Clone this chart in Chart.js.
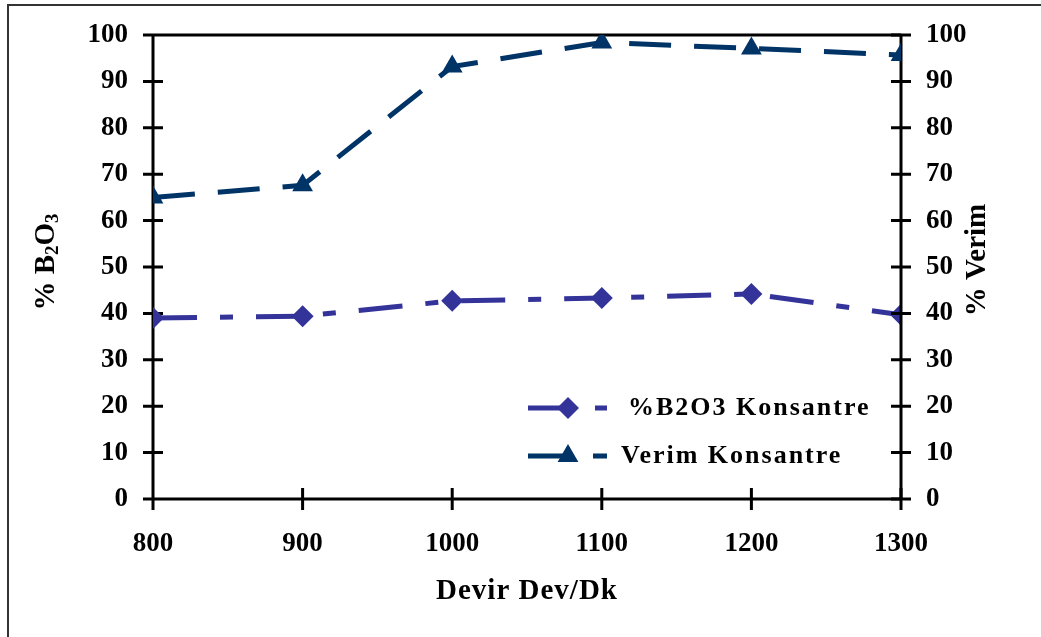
<!DOCTYPE html>
<html lang="tr">
<head>
<meta charset="UTF-8">
<title>Devir - %B2O3 / Verim</title>
<script src="https://cdn.jsdelivr.net/npm/chart.js@4"></script>
<style>
html,body{margin:0;padding:0;background:#fff;}
canvas{display:block;}
</style>
</head>
<body>
<canvas id="c" width="1041" height="637"></canvas>
<script>
// devir (dev/dk) and the two measured series
const devir=[800,900,1000,1100,1200,1300];
const b2o3=[39.0,39.4,42.7,43.3,44.2,39.7];
const verim=[65.0,67.6,93.2,98.4,97.1,95.7];
const yMin=0, yMax=100, yStep=10;
const xMin=800, xMax=1300, xStep=100;
const seriesNames=['%B2O3 Konsantre','Verim Konsantre'];

const SERIF='"Liberation Serif", "Times New Roman", serif';
const tickFont={family:SERIF,weight:'bold',size:27};

const pts=arr=>devir.map((d,i)=>({x:d,y:arr[i]}));

function crossTicks(ctx,scale,horiz,at,len){
  scale.ticks.forEach(t=>{
    const p=scale.getPixelForValue(t.value);
    if(horiz){ctx.moveTo(p,at-len);ctx.lineTo(p,at+len);}
    else{ctx.moveTo(at-len,p);ctx.lineTo(at+len,p);}
  });
}

const frame={
  id:'frame',
  beforeDatasetsDraw(chart){
    const {ctx,chartArea:a,scales}=chart;
    ctx.save();
    // outer border
    ctx.strokeStyle='#333';ctx.lineWidth=2;
    ctx.beginPath();ctx.moveTo(8,637);ctx.lineTo(8,5);ctx.lineTo(1041,5);ctx.stroke();
    // left + bottom axes, top edge
    ctx.strokeStyle='#000';ctx.lineWidth=3;ctx.lineCap='butt';
    ctx.beginPath();
    ctx.moveTo(a.left,a.top);ctx.lineTo(a.right,a.top);
    ctx.moveTo(a.left,a.top);ctx.lineTo(a.left,a.bottom);ctx.lineTo(a.right,a.bottom);
    crossTicks(ctx,scales.y,false,a.left,10);
    crossTicks(ctx,scales.x,true,a.bottom,11);
    ctx.stroke();
    ctx.restore();
  },
  afterDatasetDraw(chart,args){
    if(args.index!==0) return;
    // right axis sits above the diamonds
    const {ctx,chartArea:a,scales}=chart;
    ctx.save();
    ctx.strokeStyle='#000';ctx.lineWidth=3;
    ctx.beginPath();
    ctx.moveTo(a.right,a.top);ctx.lineTo(a.right,a.bottom);
    crossTicks(ctx,scales.y1,false,a.right,10);
    ctx.stroke();
    ctx.restore();
  },
  afterDraw(chart){
    const {ctx}=chart;
    ctx.save();
    ctx.fillStyle='#000';
    ctx.textBaseline='middle';
    // x title
    ctx.font='bold 29px '+SERIF;
    ctx.textAlign='center';
    ctx.letterSpacing='1px';
    ctx.fillText('Devir Dev/Dk',527,592);
    ctx.letterSpacing='0px';
    // left title with subscripts
    ctx.save();
    ctx.translate(47,262);ctx.rotate(-Math.PI/2);
    const parts=[['% B',29,0],['2',19,6],['O',29,0],['3',19,6]];
    let total=0;
    parts.forEach(p=>{ctx.font='bold '+p[1]+'px '+SERIF;total+=ctx.measureText(p[0]).width;});
    let x=-total/2;
    ctx.textAlign='left';
    parts.forEach(p=>{ctx.font='bold '+p[1]+'px '+SERIF;ctx.fillText(p[0],x,p[2]);x+=ctx.measureText(p[0]).width;});
    ctx.restore();
    // right title
    ctx.save();
    ctx.translate(978,260);ctx.rotate(-Math.PI/2);
    ctx.font='bold 29px '+SERIF;ctx.textAlign='center';
    ctx.fillText('% Verim',0,0);
    ctx.restore();
    // legend
    const rows=[408,456];
    chart.data.datasets.forEach((ds,i)=>{
      const y=rows[i];
      ctx.strokeStyle=ds.borderColor;ctx.lineWidth=ds.borderWidth;
      ctx.setLineDash(ds.borderDash);
      ctx.beginPath();ctx.moveTo(528,y);ctx.lineTo(607,y);ctx.stroke();
      ctx.setLineDash([]);
      ctx.fillStyle=ds.pointBackgroundColor;
      Chart.helpers.drawPoint(ctx,{pointStyle:ds.pointStyle,radius:ds.pointRadius,rotation:0,borderWidth:0},568,y);
      ctx.fillStyle='#000';
      ctx.font='bold 26px '+SERIF;ctx.textAlign='left';
      ctx.letterSpacing='2px';
      ctx.fillText(ds.label,i===0?628:621,y);
      ctx.letterSpacing='0px';
    });
    ctx.restore();
  }
};

// fixed box sizes so the plot area lands where it should
const fitY=w=>s=>{s.width=w;s.paddingTop=0;s.paddingBottom=0;};

new Chart(document.getElementById('c'),{
  type:'line',
  data:{datasets:[
    {label:seriesNames[0],data:pts(b2o3),yAxisID:'y',order:2,
     borderColor:'#333399',borderWidth:5,borderDash:[44,23,13,23],
     pointStyle:'rectRot',pointRadius:11,pointBackgroundColor:'#333399',pointBorderWidth:0,
     tension:0},
    {label:seriesNames[1],data:pts(verim),yAxisID:'y1',order:1,
     borderColor:'#003366',borderWidth:5,borderDash:[42,23],
     pointStyle:'triangle',pointRadius:12,pointBackgroundColor:'#003366',pointBorderWidth:0,
     tension:0}
  ]},
  options:{
    responsive:false,animation:false,
    layout:{padding:{top:35,left:0,right:0,bottom:0}},
    plugins:{legend:{display:false},tooltip:{enabled:false}},
    scales:{
      x:{type:'linear',min:xMin,max:xMax,
         ticks:{stepSize:xStep,font:tickFont,color:'#000',padding:29,maxRotation:0,
                callback:v=>String(v)},
         grid:{display:false,drawTicks:false},border:{display:false},
         afterFit:s=>{s.height=138;s.paddingLeft=0;s.paddingRight=0;}},
      y:{position:'left',min:yMin,max:yMax,
         ticks:{stepSize:yStep,font:tickFont,color:'#000',padding:25},
         grid:{display:false,drawTicks:false},border:{display:false},
         afterFit:fitY(153)},
      y1:{position:'right',min:yMin,max:yMax,
         ticks:{stepSize:yStep,font:tickFont,color:'#000',padding:25},
         grid:{display:false,drawTicks:false},border:{display:false},
         afterFit:fitY(140)}
    }
  },
  plugins:[frame]
});
</script>
</body>
</html>
